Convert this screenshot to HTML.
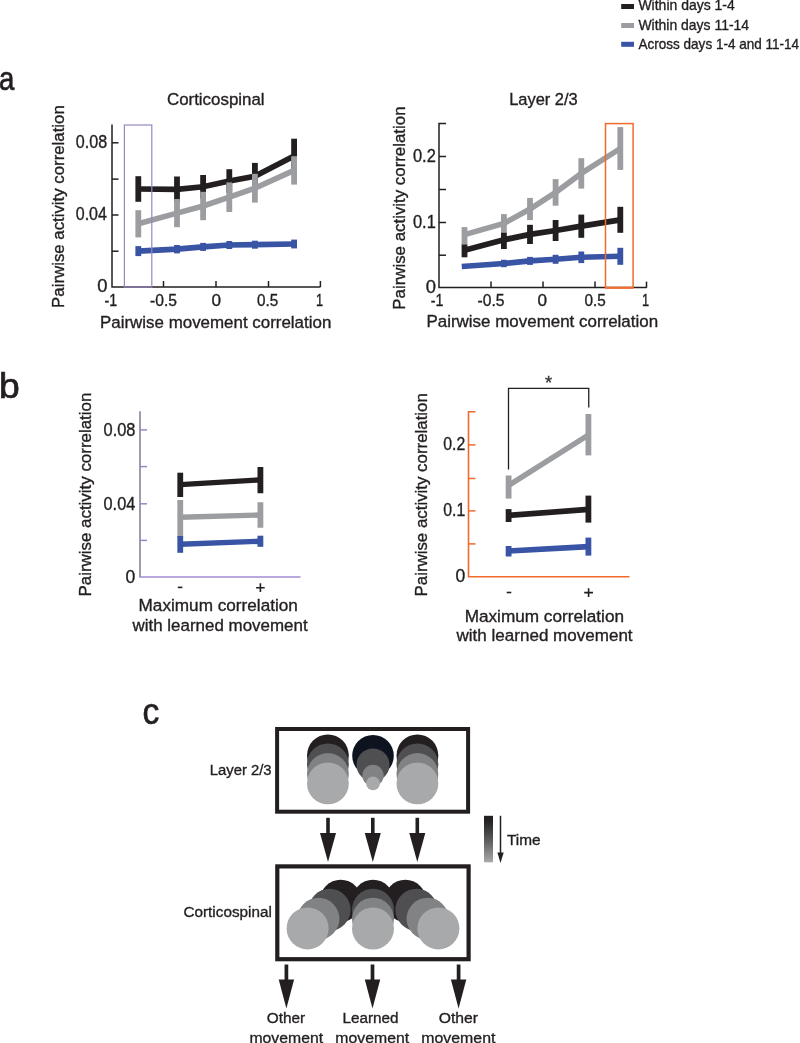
<!DOCTYPE html>
<html><head><meta charset="utf-8"><title>Figure</title>
<style>
html,body{margin:0;padding:0;background:#fff;}
body{width:800px;height:1043px;overflow:hidden;}
svg{display:block;font-family:"Liberation Sans",sans-serif;will-change:transform;filter:blur(0.35px);}
</style></head><body>
<svg width="800" height="1043" viewBox="0 0 800 1043">
<rect x="621.2" y="4" width="12.8" height="5" fill="#231f20"/>
<rect x="621.2" y="23" width="12.8" height="5" fill="#9b9da0"/>
<rect x="621.2" y="41.8" width="12.8" height="5" fill="#3953a5"/>
<text x="638.43" y="10.30" font-size="14.8" textLength="96.38" lengthAdjust="spacingAndGlyphs" fill="#231f20" stroke="#231f20" stroke-width="0.35" >Within days 1-4</text>
<text x="638.43" y="29.50" font-size="14.8" textLength="110.72" lengthAdjust="spacingAndGlyphs" fill="#231f20" stroke="#231f20" stroke-width="0.35" >Within days 11-14</text>
<text x="638.47" y="48.60" font-size="14.8" textLength="160.67" lengthAdjust="spacingAndGlyphs" fill="#231f20" stroke="#231f20" stroke-width="0.35" >Across days 1-4 and 11-14</text>
<text x="-0.96" y="90.00" font-size="33.5" textLength="15.36" lengthAdjust="spacingAndGlyphs" fill="#231f20" stroke="#231f20" stroke-width="0.7" >a</text>
<text x="-0.92" y="397.75" font-size="35.5" textLength="20.75" lengthAdjust="spacingAndGlyphs" fill="#231f20" stroke="#231f20" stroke-width="0.7" >b</text>
<text x="142.49" y="723.60" font-size="36" textLength="16.78" lengthAdjust="spacingAndGlyphs" fill="#231f20" stroke="#231f20" stroke-width="0.7" >c</text>
<polyline points="138.30,189.00 177.00,189.40 203.10,186.80 229.30,181.00 254.90,176.30 294.10,156.00" fill="none" stroke="#231f20" stroke-width="5.6" stroke-linejoin="miter"/>
<rect x="135.40" y="176.20" width="5.8" height="25.60" fill="#231f20"/>
<rect x="174.10" y="176.50" width="5.8" height="25.80" fill="#231f20"/>
<rect x="200.20" y="175.00" width="5.8" height="23.60" fill="#231f20"/>
<rect x="226.40" y="169.20" width="5.8" height="23.60" fill="#231f20"/>
<rect x="252.00" y="162.90" width="5.8" height="26.80" fill="#231f20"/>
<rect x="291.20" y="138.70" width="5.8" height="34.60" fill="#231f20"/>
<polyline points="138.30,223.80 177.00,213.10 203.10,206.00 229.30,197.20 254.90,188.20 294.10,170.40" fill="none" stroke="#9b9da0" stroke-width="5.6" stroke-linejoin="miter"/>
<rect x="135.40" y="210.20" width="5.8" height="27.20" fill="#9b9da0"/>
<rect x="174.10" y="199.00" width="5.8" height="28.20" fill="#9b9da0"/>
<rect x="200.20" y="191.80" width="5.8" height="28.40" fill="#9b9da0"/>
<rect x="226.40" y="182.40" width="5.8" height="29.60" fill="#9b9da0"/>
<rect x="252.00" y="173.80" width="5.8" height="28.80" fill="#9b9da0"/>
<rect x="291.20" y="156.20" width="5.8" height="28.40" fill="#9b9da0"/>
<polyline points="138.30,251.10 177.00,249.20 203.10,246.90 229.30,245.00 254.90,244.70 294.10,244.00" fill="none" stroke="#3953a5" stroke-width="5.7" stroke-linejoin="miter"/>
<rect x="135.40" y="246.10" width="5.8" height="10.00" fill="#3953a5"/>
<rect x="174.10" y="245.00" width="5.8" height="8.40" fill="#3953a5"/>
<rect x="200.20" y="242.90" width="5.8" height="8.00" fill="#3953a5"/>
<rect x="226.40" y="241.00" width="5.8" height="8.00" fill="#3953a5"/>
<rect x="252.00" y="240.70" width="5.8" height="8.00" fill="#3953a5"/>
<rect x="291.20" y="239.60" width="5.8" height="8.80" fill="#3953a5"/>
<path d="M112,124.5 V287 H320.5" fill="none" stroke="#231f20" stroke-width="1.5"/>
<line x1="112" y1="142.8" x2="118.5" y2="142.8" stroke="#231f20" stroke-width="1.5"/>
<line x1="112" y1="179.1" x2="118.5" y2="179.1" stroke="#231f20" stroke-width="1.5"/>
<line x1="112" y1="215" x2="118.5" y2="215" stroke="#231f20" stroke-width="1.5"/>
<line x1="112" y1="251.2" x2="118.5" y2="251.2" stroke="#231f20" stroke-width="1.5"/>
<line x1="163.5" y1="287" x2="163.5" y2="281" stroke="#231f20" stroke-width="1.5"/>
<line x1="216" y1="287" x2="216" y2="281" stroke="#231f20" stroke-width="1.5"/>
<line x1="268.5" y1="287" x2="268.5" y2="281" stroke="#231f20" stroke-width="1.5"/>
<line x1="320.4" y1="287" x2="320.4" y2="281" stroke="#231f20" stroke-width="1.5"/>
<rect x="124.4" y="125" width="27.4" height="162" fill="none" stroke="#9a86c4" stroke-width="1.2"/>
<text x="75.77" y="148.20" font-size="17.6" textLength="31.32" lengthAdjust="spacingAndGlyphs" fill="#231f20" stroke="#231f20" stroke-width="0.35" >0.08</text>
<text x="75.78" y="220.40" font-size="17.6" textLength="31.09" lengthAdjust="spacingAndGlyphs" fill="#231f20" stroke="#231f20" stroke-width="0.35" >0.04</text>
<text x="97.28" y="292.20" font-size="17.6" textLength="10.24" lengthAdjust="spacingAndGlyphs" fill="#231f20" stroke="#231f20" stroke-width="0.35" >0</text>
<text x="104.57" y="305.80" font-size="16.3" textLength="12.73" lengthAdjust="spacingAndGlyphs" fill="#231f20" stroke="#231f20" stroke-width="0.35" >-1</text>
<text x="150.01" y="305.80" font-size="16.3" textLength="26.95" lengthAdjust="spacingAndGlyphs" fill="#231f20" stroke="#231f20" stroke-width="0.35" >-0.5</text>
<text x="211.43" y="305.80" font-size="16.3" textLength="9.54" lengthAdjust="spacingAndGlyphs" fill="#231f20" stroke="#231f20" stroke-width="0.35" >0</text>
<text x="257.00" y="305.80" font-size="16.3" textLength="21.24" lengthAdjust="spacingAndGlyphs" fill="#231f20" stroke="#231f20" stroke-width="0.35" >0.5</text>
<text x="315.98" y="305.80" font-size="16.3" textLength="7.10" lengthAdjust="spacingAndGlyphs" fill="#231f20" stroke="#231f20" stroke-width="0.35" >1</text>
<text x="100.01" y="327.60" font-size="16.8" textLength="231.29" lengthAdjust="spacingAndGlyphs" fill="#231f20" stroke="#231f20" stroke-width="0.35" >Pairwise movement correlation</text>
<text transform="translate(63.80,307.88) rotate(-90)" x="0" y="0" font-size="16.8" textLength="202.68" lengthAdjust="spacingAndGlyphs" fill="#231f20" stroke="#231f20" stroke-width="0.35">Pairwise activity correlation</text>
<text x="166.94" y="105.25" font-size="16.8" textLength="97.70" lengthAdjust="spacingAndGlyphs" fill="#231f20" stroke="#231f20" stroke-width="0.35" >Corticospinal</text>
<polyline points="464.50,234.60 503.90,223.40 530.00,209.00 555.60,192.40 581.30,173.40 620.30,148.50" fill="none" stroke="#9b9da0" stroke-width="5.6" stroke-linejoin="miter"/>
<rect x="461.60" y="227.10" width="5.8" height="17.90" fill="#9b9da0"/>
<rect x="501.00" y="214.10" width="5.8" height="18.50" fill="#9b9da0"/>
<rect x="527.10" y="197.90" width="5.8" height="22.20" fill="#9b9da0"/>
<rect x="552.70" y="179.10" width="5.8" height="26.60" fill="#9b9da0"/>
<rect x="578.40" y="158.20" width="5.8" height="30.40" fill="#9b9da0"/>
<rect x="617.40" y="127.10" width="5.8" height="42.80" fill="#9b9da0"/>
<polyline points="464.50,250.20 503.90,239.80 530.00,234.40 555.60,230.50 581.30,226.20 620.30,219.80" fill="none" stroke="#231f20" stroke-width="5.8" stroke-linejoin="miter"/>
<rect x="461.60" y="244.60" width="5.8" height="12.70" fill="#231f20"/>
<rect x="501.00" y="232.60" width="5.8" height="16.40" fill="#231f20"/>
<rect x="527.10" y="224.80" width="5.8" height="19.20" fill="#231f20"/>
<rect x="552.70" y="220.00" width="5.8" height="21.00" fill="#231f20"/>
<rect x="578.40" y="214.60" width="5.8" height="23.20" fill="#231f20"/>
<rect x="617.40" y="206.80" width="5.8" height="26.00" fill="#231f20"/>
<polyline points="461.75,266.50 503.90,263.50 530.00,260.90 555.60,259.30 581.30,257.30 620.30,256.30" fill="none" stroke="#3953a5" stroke-width="5.6" stroke-linejoin="miter"/>
<rect x="501.00" y="259.80" width="5.8" height="7.40" fill="#3953a5"/>
<rect x="527.10" y="256.90" width="5.8" height="8.00" fill="#3953a5"/>
<rect x="552.70" y="254.80" width="5.8" height="9.00" fill="#3953a5"/>
<rect x="578.40" y="251.50" width="5.8" height="11.60" fill="#3953a5"/>
<rect x="617.40" y="247.80" width="5.8" height="17.00" fill="#3953a5"/>
<path d="M446,123.6 H439 V287.6 H646.8" fill="none" stroke="#231f20" stroke-width="1.5"/>
<line x1="439" y1="156.5" x2="446" y2="156.5" stroke="#231f20" stroke-width="1.5"/>
<line x1="439" y1="189.5" x2="446" y2="189.5" stroke="#231f20" stroke-width="1.5"/>
<line x1="439" y1="222.5" x2="446" y2="222.5" stroke="#231f20" stroke-width="1.5"/>
<line x1="439" y1="255.2" x2="446" y2="255.2" stroke="#231f20" stroke-width="1.5"/>
<line x1="491" y1="287.6" x2="491" y2="281.6" stroke="#231f20" stroke-width="1.5"/>
<line x1="543" y1="287.6" x2="543" y2="281.6" stroke="#231f20" stroke-width="1.5"/>
<line x1="595" y1="287.6" x2="595" y2="281.6" stroke="#231f20" stroke-width="1.5"/>
<line x1="646.5" y1="287.6" x2="646.5" y2="281.6" stroke="#231f20" stroke-width="1.5"/>
<rect x="605.5" y="123.6" width="27.6" height="164" fill="none" stroke="#f26b2d" stroke-width="1.5"/>
<line x1="605.5" y1="287.8" x2="633.1" y2="287.8" stroke="#f26b2d" stroke-width="2"/>
<text x="412.96" y="162.20" font-size="17.6" textLength="22.87" lengthAdjust="spacingAndGlyphs" fill="#231f20" stroke="#231f20" stroke-width="0.35" >0.2</text>
<text x="412.96" y="228.20" font-size="17.6" textLength="22.85" lengthAdjust="spacingAndGlyphs" fill="#231f20" stroke="#231f20" stroke-width="0.35" >0.1</text>
<text x="425.78" y="292.80" font-size="17.6" textLength="10.24" lengthAdjust="spacingAndGlyphs" fill="#231f20" stroke="#231f20" stroke-width="0.35" >0</text>
<text x="430.67" y="306.20" font-size="16.3" textLength="12.73" lengthAdjust="spacingAndGlyphs" fill="#231f20" stroke="#231f20" stroke-width="0.35" >-1</text>
<text x="477.51" y="306.20" font-size="16.3" textLength="26.95" lengthAdjust="spacingAndGlyphs" fill="#231f20" stroke="#231f20" stroke-width="0.35" >-0.5</text>
<text x="537.53" y="306.20" font-size="16.3" textLength="9.54" lengthAdjust="spacingAndGlyphs" fill="#231f20" stroke="#231f20" stroke-width="0.35" >0</text>
<text x="584.40" y="306.20" font-size="16.3" textLength="21.24" lengthAdjust="spacingAndGlyphs" fill="#231f20" stroke="#231f20" stroke-width="0.35" >0.5</text>
<text x="641.88" y="306.20" font-size="16.3" textLength="7.10" lengthAdjust="spacingAndGlyphs" fill="#231f20" stroke="#231f20" stroke-width="0.35" >1</text>
<text x="426.51" y="327.30" font-size="16.8" textLength="231.59" lengthAdjust="spacingAndGlyphs" fill="#231f20" stroke="#231f20" stroke-width="0.35" >Pairwise movement correlation</text>
<text transform="translate(404.70,309.68) rotate(-90)" x="0" y="0" font-size="16.8" textLength="203.19" lengthAdjust="spacingAndGlyphs" fill="#231f20" stroke="#231f20" stroke-width="0.35">Pairwise activity correlation</text>
<text x="509.15" y="104.50" font-size="16.8" textLength="68.58" lengthAdjust="spacingAndGlyphs" fill="#231f20" stroke="#231f20" stroke-width="0.35" >Layer 2/3</text>
<polyline points="180.25,484.60 260.40,479.90" fill="none" stroke="#231f20" stroke-width="5.4" stroke-linejoin="miter"/>
<rect x="177.35" y="472.70" width="5.8" height="24.30" fill="#231f20"/>
<rect x="257.50" y="467.00" width="5.8" height="26.25" fill="#231f20"/>
<polyline points="180.25,517.25 260.40,515.00" fill="none" stroke="#9b9da0" stroke-width="5.4" stroke-linejoin="miter"/>
<rect x="177.35" y="500.00" width="5.8" height="36.80" fill="#9b9da0"/>
<rect x="257.50" y="502.25" width="5.8" height="25.50" fill="#9b9da0"/>
<polyline points="180.25,544.25 260.40,541.25" fill="none" stroke="#3953a5" stroke-width="5.4" stroke-linejoin="miter"/>
<rect x="177.35" y="536.00" width="5.8" height="16.80" fill="#3953a5"/>
<rect x="257.50" y="535.70" width="5.8" height="11.10" fill="#3953a5"/>
<line x1="140" y1="411.2" x2="140" y2="577" stroke="#9088a8" stroke-width="1.7"/>
<line x1="139.15" y1="577" x2="300.5" y2="577" stroke="#a08bcf" stroke-width="1.7"/>
<line x1="140" y1="429.9" x2="147" y2="429.9" stroke="#9a86c4" stroke-width="1.5"/>
<line x1="140" y1="466.6" x2="147" y2="466.6" stroke="#9a86c4" stroke-width="1.5"/>
<line x1="140" y1="503.8" x2="147" y2="503.8" stroke="#9a86c4" stroke-width="1.5"/>
<line x1="140" y1="540.4" x2="147" y2="540.4" stroke="#9a86c4" stroke-width="1.5"/>
<text x="103.56" y="435.80" font-size="17.6" textLength="31.95" lengthAdjust="spacingAndGlyphs" fill="#231f20" stroke="#231f20" stroke-width="0.35" >0.08</text>
<text x="103.56" y="509.80" font-size="17.6" textLength="31.71" lengthAdjust="spacingAndGlyphs" fill="#231f20" stroke="#231f20" stroke-width="0.35" >0.04</text>
<text x="125.51" y="583.00" font-size="17.6" textLength="9.77" lengthAdjust="spacingAndGlyphs" fill="#231f20" stroke="#231f20" stroke-width="0.35" >0</text>
<line x1="177.8" y1="587.4" x2="182.4" y2="587.4" stroke="#231f20" stroke-width="1.6"/>
<path d="M256.1,587.7 H264.7 M260.4,583.3 V592.1" stroke="#231f20" stroke-width="1.6" fill="none"/>
<text x="138.59" y="611.25" font-size="16.8" textLength="159.28" lengthAdjust="spacingAndGlyphs" fill="#231f20" stroke="#231f20" stroke-width="0.35" >Maximum correlation</text>
<text x="132.52" y="631.25" font-size="16.8" textLength="175.09" lengthAdjust="spacingAndGlyphs" fill="#231f20" stroke="#231f20" stroke-width="0.35" >with learned movement</text>
<text transform="translate(91.30,596.49) rotate(-90)" x="0" y="0" font-size="16.8" textLength="203.79" lengthAdjust="spacingAndGlyphs" fill="#231f20" stroke="#231f20" stroke-width="0.35">Pairwise activity correlation</text>
<polyline points="508.60,485.40 588.40,435.00" fill="none" stroke="#9b9da0" stroke-width="5.6" stroke-linejoin="miter"/>
<rect x="505.70" y="475.50" width="5.8" height="23.10" fill="#9b9da0"/>
<rect x="585.50" y="414.00" width="5.8" height="41.40" fill="#9b9da0"/>
<polyline points="508.60,515.40 588.40,509.40" fill="none" stroke="#231f20" stroke-width="5.6" stroke-linejoin="miter"/>
<rect x="505.70" y="509.10" width="5.8" height="12.90" fill="#231f20"/>
<rect x="585.50" y="495.60" width="5.8" height="27.00" fill="#231f20"/>
<polyline points="508.60,551.00 588.40,546.60" fill="none" stroke="#3953a5" stroke-width="5.6" stroke-linejoin="miter"/>
<rect x="505.70" y="546.00" width="5.8" height="10.50" fill="#3953a5"/>
<rect x="585.50" y="537.60" width="5.8" height="18.00" fill="#3953a5"/>
<path d="M475.5,411.8 H468.5 V576.7 H629.5" fill="none" stroke="#f26b2d" stroke-width="1.6"/>
<line x1="468.5" y1="444.9" x2="475.5" y2="444.9" stroke="#f26b2d" stroke-width="1.5"/>
<line x1="468.5" y1="478.5" x2="475.5" y2="478.5" stroke="#f26b2d" stroke-width="1.5"/>
<line x1="468.5" y1="510.9" x2="475.5" y2="510.9" stroke="#f26b2d" stroke-width="1.5"/>
<line x1="468.5" y1="543.9" x2="475.5" y2="543.9" stroke="#f26b2d" stroke-width="1.5"/>
<path d="M508.5,469.5 V388.4 H588.75 V407.5" fill="none" stroke="#231f20" stroke-width="1.3"/>
<text x="544.90" y="388.70" font-size="18.5" textLength="7.20" lengthAdjust="spacingAndGlyphs" fill="#3a3637" stroke="#3a3637" stroke-width="0.35" >*</text>
<text x="443.28" y="450.30" font-size="17.6" textLength="22.01" lengthAdjust="spacingAndGlyphs" fill="#231f20" stroke="#231f20" stroke-width="0.35" >0.2</text>
<text x="443.28" y="516.30" font-size="17.6" textLength="21.99" lengthAdjust="spacingAndGlyphs" fill="#231f20" stroke="#231f20" stroke-width="0.35" >0.1</text>
<text x="455.41" y="582.20" font-size="17.6" textLength="9.77" lengthAdjust="spacingAndGlyphs" fill="#231f20" stroke="#231f20" stroke-width="0.35" >0</text>
<line x1="506.7" y1="592.5" x2="511.3" y2="592.5" stroke="#231f20" stroke-width="1.6"/>
<path d="M584.2,592.6 H593 M588.6,588.2 V597" stroke="#231f20" stroke-width="1.6" fill="none"/>
<text x="464.69" y="621.70" font-size="16.8" textLength="159.33" lengthAdjust="spacingAndGlyphs" fill="#231f20" stroke="#231f20" stroke-width="0.35" >Maximum correlation</text>
<text x="456.52" y="641.00" font-size="16.8" textLength="176.09" lengthAdjust="spacingAndGlyphs" fill="#231f20" stroke="#231f20" stroke-width="0.35" >with learned movement</text>
<text transform="translate(427.40,596.48) rotate(-90)" x="0" y="0" font-size="16.8" textLength="203.29" lengthAdjust="spacingAndGlyphs" fill="#231f20" stroke="#231f20" stroke-width="0.35">Pairwise activity correlation</text>
<rect x="277.1" y="729" width="191" height="82.7" fill="none" stroke="#231f20" stroke-width="4"/>
<circle cx="327.9" cy="755.4" r="20.9" fill="#231f20"/>
<circle cx="327.9" cy="764.3" r="20.9" fill="#4f4f51"/>
<circle cx="327.9" cy="774" r="20.9" fill="#818283"/>
<circle cx="327.9" cy="783.4" r="20.9" fill="#a8a9aa"/>
<circle cx="417.4" cy="755.4" r="20.9" fill="#231f20"/>
<circle cx="417.4" cy="764.3" r="20.9" fill="#4f4f51"/>
<circle cx="417.4" cy="774" r="20.9" fill="#818283"/>
<circle cx="417.4" cy="783.4" r="20.9" fill="#a8a9aa"/>
<circle cx="373" cy="755.7" r="20.8" fill="#0e1320"/>
<circle cx="373" cy="764.9" r="16.5" fill="#4f4f51"/>
<circle cx="373" cy="775.5" r="10.65" fill="#818283"/>
<circle cx="373" cy="783.4" r="6.9" fill="#a8a9aa"/>
<rect x="326.20" y="817.8" width="3.6" height="16.200000000000045" fill="#231f20"/><path d="M320.00,833 L336.00,833 L328.00,862 Z" fill="#231f20"/>
<rect x="371.00" y="817.8" width="3.6" height="16.200000000000045" fill="#231f20"/><path d="M364.80,833 L380.80,833 L372.80,862 Z" fill="#231f20"/>
<rect x="415.50" y="817.8" width="3.6" height="16.200000000000045" fill="#231f20"/><path d="M409.30,833 L425.30,833 L417.30,862 Z" fill="#231f20"/>
<defs><linearGradient id="tg" x1="0" y1="0" x2="0" y2="1"><stop offset="0" stop-color="#231f20"/><stop offset="0.12" stop-color="#262324"/><stop offset="0.55" stop-color="#5f5f60"/><stop offset="1" stop-color="#a9a9a9"/></linearGradient></defs>
<rect x="484" y="815.8" width="9" height="46.5" fill="url(#tg)"/>
<line x1="500.5" y1="815.8" x2="500.5" y2="855" stroke="#231f20" stroke-width="1.5"/>
<path d="M497.4,852.5 L503.7,852.5 L500.5,863.1 Z" fill="#231f20"/>
<text x="507.06" y="845.10" font-size="15.2" textLength="33.62" lengthAdjust="spacingAndGlyphs" fill="#231f20" stroke="#231f20" stroke-width="0.35" >Time</text>
<text x="209.68" y="774.75" font-size="15.5" textLength="61.98" lengthAdjust="spacingAndGlyphs" fill="#231f20" stroke="#231f20" stroke-width="0.35" >Layer 2/3</text>
<rect x="277.3" y="866.4" width="191.3" height="92.8" fill="none" stroke="#231f20" stroke-width="4.2"/>
<circle cx="340.7" cy="900.75" r="21" fill="#231f20"/>
<circle cx="373" cy="900.75" r="21" fill="#231f20"/>
<circle cx="405.3" cy="900.75" r="21" fill="#231f20"/>
<circle cx="329.6" cy="909.75" r="21" fill="#4f4f51"/>
<circle cx="373" cy="909.75" r="21" fill="#4f4f51"/>
<circle cx="416.4" cy="909.75" r="21" fill="#4f4f51"/>
<circle cx="318.4" cy="918.75" r="21" fill="#818283"/>
<circle cx="373" cy="918.75" r="21" fill="#818283"/>
<circle cx="427.6" cy="918.75" r="21" fill="#818283"/>
<circle cx="307.6" cy="928.4" r="21" fill="#a8a9aa"/>
<circle cx="373" cy="928.5" r="21" fill="#a8a9aa"/>
<circle cx="438.4" cy="928.4" r="21" fill="#a8a9aa"/>
<text x="183.47" y="917.30" font-size="15.5" textLength="88.36" lengthAdjust="spacingAndGlyphs" fill="#231f20" stroke="#231f20" stroke-width="0.35" >Corticospinal</text>
<rect x="284.55" y="964.5" width="3.7" height="16.0" fill="#231f20"/><path d="M278.70,979.5 L294.10,979.5 L286.40,1008.5 Z" fill="#231f20"/>
<rect x="370.65" y="964.5" width="3.7" height="16.0" fill="#231f20"/><path d="M364.80,979.5 L380.20,979.5 L372.50,1008.5 Z" fill="#231f20"/>
<rect x="456.75" y="964.5" width="3.7" height="16.0" fill="#231f20"/><path d="M450.90,979.5 L466.30,979.5 L458.60,1008.5 Z" fill="#231f20"/>
<text x="266.78" y="1023.00" font-size="15.5" textLength="38.48" lengthAdjust="spacingAndGlyphs" fill="#231f20" stroke="#231f20" stroke-width="0.35" >Other</text>
<text x="342.55" y="1023.00" font-size="15.5" textLength="56.03" lengthAdjust="spacingAndGlyphs" fill="#231f20" stroke="#231f20" stroke-width="0.35" >Learned</text>
<text x="438.66" y="1023.00" font-size="15.5" textLength="39.31" lengthAdjust="spacingAndGlyphs" fill="#231f20" stroke="#231f20" stroke-width="0.35" >Other</text>
<text x="249.46" y="1042.50" font-size="15.5" textLength="73.64" lengthAdjust="spacingAndGlyphs" fill="#231f20" stroke="#231f20" stroke-width="0.35" >movement</text>
<text x="335.36" y="1042.50" font-size="15.5" textLength="73.74" lengthAdjust="spacingAndGlyphs" fill="#231f20" stroke="#231f20" stroke-width="0.35" >movement</text>
<text x="421.35" y="1042.50" font-size="15.5" textLength="74.05" lengthAdjust="spacingAndGlyphs" fill="#231f20" stroke="#231f20" stroke-width="0.35" >movement</text>
</svg>
</body></html>
